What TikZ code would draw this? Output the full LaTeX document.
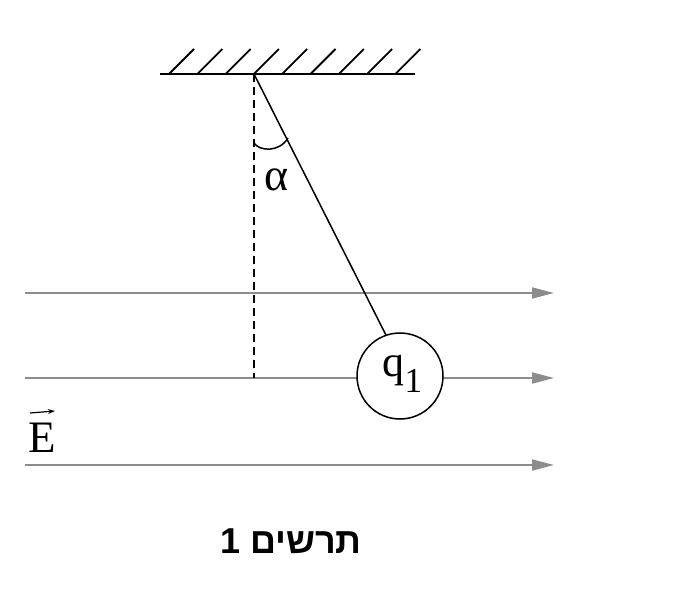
\documentclass[tikz,border=0pt]{standalone}
\usepackage{fontspec}
\setmainfont{Liberation Serif}
\newfontfamily\hebfont[Script=Hebrew]{Liberation Sans}
\TeXXeTstate=1
\usetikzlibrary{arrows.meta,calc}
\tikzset{
  field/.style={draw=gray!90, line width=1.8pt, -{Triangle[length=22pt,width=11pt]}},
  hatch/.style={line width=1.8pt},
  lbl/.style={inner sep=0pt, font=\fontsize{44}{48}\selectfont}
}
\begin{document}
\begin{tikzpicture}[x=1pt,y=-1pt]
\useasboundingbox (0,0) rectangle (700,610);
% field lines
\coordinate (f1s) at (25,293); \coordinate (f1e) at (554,293);
\coordinate (f2s) at (25,378); \coordinate (f2e) at (554,378);
\coordinate (f3s) at (25,465); \coordinate (f3e) at (554,465);
\draw[field] (f1s) -- (f1e);
\draw[field] (f2s) -- (f2e);
\draw[field] (f3s) -- (f3e);
% ceiling
\coordinate (cl) at (160,74); \coordinate (cr) at (415,74);
\draw[line width=2.6pt] (cl) -- (cr);
\foreach \i in {0,...,8} {
  \draw[hatch] (169+28.3*\i,74) -- ++(25,-25);
}
% pivot and dashed vertical
\coordinate (pivot) at (254,74);
\coordinate (foot) at (254,378);
\draw[line width=1.5pt, dash pattern=on 8pt off 5pt] (pivot) -- (foot);
% bob
\node[draw, circle, line width=1.5pt, fill=white, minimum size=86pt, inner sep=0pt] (bob) at (400,376) {};
\node[lbl, anchor=base west] (q) at (382,376) {q};
\node[inner sep=0pt, anchor=base west, font=\fontsize{35}{40}\selectfont] (one) at (q.base east) [yshift=-16pt] {1};
\draw[line width=1.5pt] (pivot) -- (bob.109);
% angle
\coordinate (a1) at (254,143);
\coordinate (a2) at (288,138);
\draw[line width=1.5pt] (a1) .. controls (259,151) and (279,153) .. (a2);
\node[inner sep=0pt, font=\fontsize{46}{50}\selectfont, anchor=base] (alpha) at (277,190) {α};
% E
\node[inner sep=0pt, font=\fontsize{45}{50}\selectfont, anchor=base west] (E) at (28,452) {E};
\draw[line width=1.2pt, -{Stealth[length=7pt,width=5pt]}] (30,413) -- (55,411);
% caption
\node[inner sep=0pt, font=\hebfont\bfseries\fontsize{36}{40}\selectfont] (cap) at (291,541) {\beginR תרשים 1\endR};
\end{tikzpicture}
\end{document}
